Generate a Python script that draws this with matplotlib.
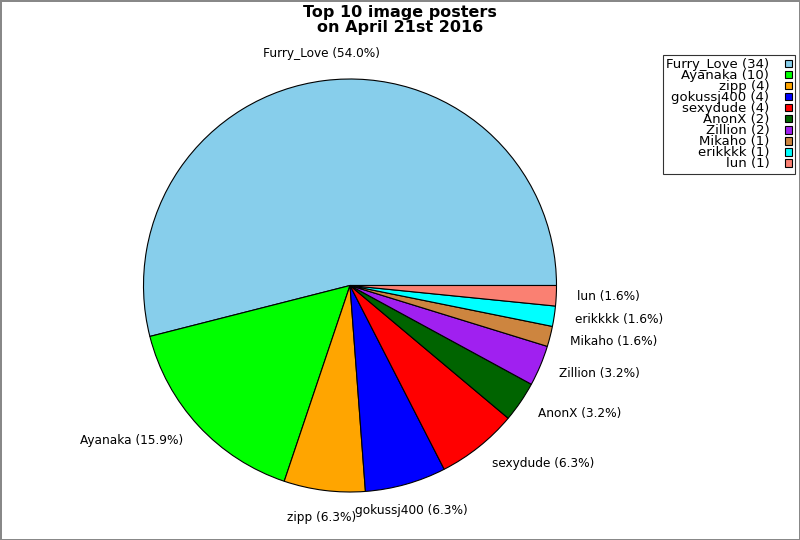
import matplotlib

matplotlib.use("Agg")
import matplotlib.pyplot as plt

posters = [
    "Furry_Love", "Ayanaka", "zipp", "gokussj400", "sexydude",
    "AnonX", "Zillion", "Mikaho", "erikkkk", "lun",
]
image_counts = [34, 10, 4, 4, 4, 2, 2, 1, 1, 1]
slice_colors = [
    "#87ceeb", "#00ff00", "#ffa500", "#0000ff", "#ff0000",
    "#006400", "#a020f0", "#cd853f", "#00ffff", "#fa8072",
]

total = sum(image_counts)
pie_labels = [
    f"{name} ({100.0 * count / total:.1f}%)"
    for name, count in zip(posters, image_counts)
]
legend_labels = [
    f"{name} ({count})" for name, count in zip(posters, image_counts)
]

figure = plt.figure(figsize=(8, 5.4), dpi=100)
figure.patch.set_edgecolor("#888888")
figure.patch.set_linewidth(2)

# pie centre at (350, 285.5) px, radius 206.5 px
axis = figure.add_axes(
    [143.5 / 800, 48 / 540, 413 / 800, 413 / 540],
)

wedges, texts = axis.pie(
    image_counts,
    labels=pie_labels,
    colors=slice_colors,
    startangle=0,
    labeldistance=1.1,
    wedgeprops={"edgecolor": "black", "linewidth": 0.8},
    textprops={"fontsize": 8.7},
)

# labels near the top/bottom are centred and pushed off the rim
for text in texts:
    x, y = text.get_position()
    if abs(x) < 0.4:
        text.set_horizontalalignment("center")
        text.set_verticalalignment("bottom" if y > 0 else "top")

axis.set_xlim(-1, 1)
axis.set_ylim(-1, 1)
axis.set_aspect("auto")
axis.axis("off")

legend = axis.legend(
    wedges,
    legend_labels,
    loc="upper right",
    bbox_to_anchor=(795 / 800, 1 - 55 / 540),
    bbox_transform=figure.transFigure,
    borderaxespad=0,
    markerfirst=False,
    fancybox=False,
    fontsize=9.5,
    labelspacing=-0.15,
    handlelength=0.5,
    handleheight=0.5,
    handletextpad=1.2,
    borderpad=0.25,
)
legend.get_frame().set_edgecolor("black")
legend.get_frame().set_linewidth(0.8)
for handle in legend.legend_handles:
    handle.set_edgecolor("black")
    handle.set_linewidth(0.8)

figure.suptitle(
    "Top 10 image posters\non April 21st 2016",
    fontsize=11.5,
    fontweight="bold",
    y=0.99,
    linespacing=0.95,
)

figure.savefig(
    "out.png",
    dpi=100,
    edgecolor=figure.get_edgecolor(),
)
plt.close(figure)
